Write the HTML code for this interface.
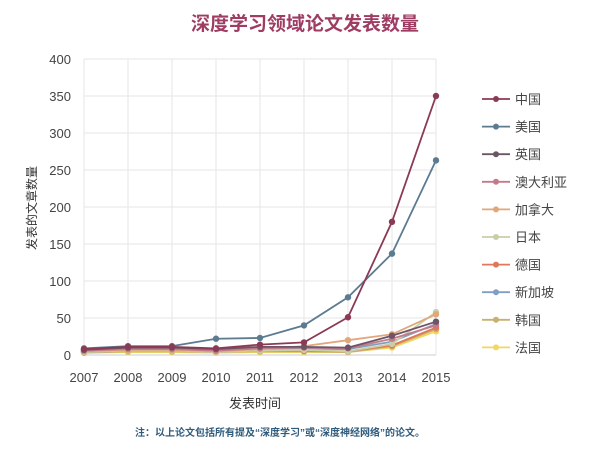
<!DOCTYPE html>
<html><head><meta charset="utf-8"><style>
body{margin:0;background:#fff;}
svg text{font-family:"Liberation Sans","Noto Sans CJK SC",sans-serif;}
</style></head><body>
<svg id="chart" width="600" height="464" viewBox="0 0 600 464">
<text x="305" y="30" text-anchor="middle" font-size="19" font-weight="bold" fill="#9e3c62">深度学习领域论文发表数量</text>
<g id="grid"></g><g id="axes"></g><g id="series"></g><g id="legend"></g>
<text x="255" y="408" text-anchor="middle" font-size="13" fill="#333">发表时间</text>
<text transform="translate(36,208) rotate(-90)" text-anchor="middle" font-size="12" fill="#333">发表的文章数量</text>
<text x="280" y="436" text-anchor="middle" font-size="10" font-weight="bold" fill="#2f5b7c">注：以上论文包括所有提及“深度学习”或“深度神经网络”的论文。</text>
</svg>
<script>
const years=[2007,2008,2009,2010,2011,2012,2013,2014,2015];
const yTicks=[0,50,100,150,200,250,300,350,400];
const seriesNames=["中国","美国","英国","澳大利亚","加拿大","日本","德国","新加坡","韩国","法国"];
const seriesColors=["#8b3a55","#5c7b90","#6e5566","#c47a8a","#e0a77a","#c8cfa8","#e0795a","#7fa0c0","#c9b070","#f0d860"];
const china=[8,11,11,9,14,17,51,180,350];
const usa=[9,12,12,22,23,40,78,137,263];
const uk=[7,10,10,8,11,11,10,26,45];
const australia=[6,8,8,6,9,10,9,22,40];
const canada=[5,7,7,5,8,12,20,28,55];
const japan=[4,6,6,4,6,7,5,15,58];
const germany=[4,6,6,4,6,6,5,13,37];
const singapore=[4,6,6,5,7,8,8,18,42];
const korea=[3,5,5,4,5,5,4,12,35];
const france=[3,4,4,3,4,4,4,10,32];
const allSeries=[china,usa,uk,australia,canada,japan,germany,singapore,korea,france];

const NS="http://www.w3.org/2000/svg";
const X0=84,X1=436,Y0=355,Y1=59;
const xScale=i=>X0+(X1-X0)*i/(years.length-1);
const yScale=v=>Y0-(Y0-Y1)*v/400;
function mk(tag,attrs,parent){const e=document.createElementNS(NS,tag);for(const k in attrs)e.setAttribute(k,attrs[k]);parent.appendChild(e);return e;}
const grid=document.getElementById('grid'),axes=document.getElementById('axes'),ser=document.getElementById('series'),leg=document.getElementById('legend');
yTicks.forEach(t=>{
  const l=mk('line',{x1:X0,x2:X1,y1:yScale(t),y2:yScale(t),stroke:t===0?'#ccc':'#e6e6e6','stroke-width':1},grid);
  
  
  const tx=mk('text',{x:X0-13,y:yScale(t)+5,'text-anchor':'end','font-size':13,fill:'#444'},axes);
  tx.textContent=t;
  
  
});
years.forEach((y,i)=>{
  const l=mk('line',{x1:xScale(i),x2:xScale(i),y1:Y1,y2:Y0,stroke:'#e6e6e6','stroke-width':1},grid);
  
  
  const tx=mk('text',{x:xScale(i),y:Y0+27,'text-anchor':'middle','font-size':13,fill:'#444'},axes);
  tx.textContent=y;
  
  
});
for(let s=allSeries.length-1;s>=0;s--){
  const d=allSeries[s],c=seriesColors[s];
  const g=mk('g',{},ser);
  
  
  const p=mk('polyline',{points:d.map((v,i)=>xScale(i)+','+yScale(v)).join(' '),fill:'none',stroke:c,'stroke-width':1.8},g);
  
  
  d.forEach((v,i)=>{
    const ci=mk('circle',{cx:xScale(i),cy:yScale(v),r:3.2,fill:c},g);
    
    
  });
}
seriesNames.forEach((n,i)=>{
  const y=99+i*27.6;
  const g=mk('g',{},leg);
  
  
  mk('line',{x1:482,x2:510,y1:y,y2:y,stroke:seriesColors[i],'stroke-width':1.8},g);
  mk('circle',{cx:496,cy:y,r:3,fill:seriesColors[i]},g);
  const t=mk('text',{x:515,y:y+5,'font-size':13,fill:'#444'},g);
  t.textContent=n;
});
</script>
</body></html>
